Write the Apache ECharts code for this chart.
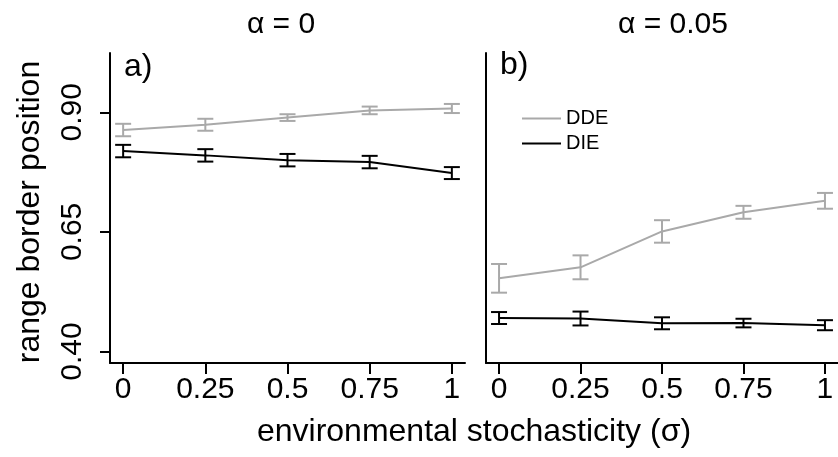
<!DOCTYPE html>
<html>
<head>
<meta charset="utf-8">
<script src="https://cdn.jsdelivr.net/npm/echarts@6/dist/echarts.min.js"></script>
<style>
  html, body { margin: 0; padding: 0; background: #ffffff; }
  #chart { width: 838px; height: 457px; }
</style>
</head>
<body>
<div id="chart"></div>
<script>
// Environmental stochasticity levels (x)
const sigma = [0, 0.25, 0.5, 0.75, 1];
const sigmaLabels = ['0', '0.25', '0.5', '0.75', '1'];

// Range border position, alpha = 0
const ddeA = [0.863, 0.874, 0.889, 0.904, 0.908];
const ddeAErr = [0.013, 0.0125, 0.007, 0.008, 0.0095];
const dieA = [0.819, 0.810, 0.800, 0.796, 0.773];
const dieAErr = [0.013, 0.013, 0.013, 0.013, 0.0125];

// Range border position, alpha = 0.05
const ddeB = [0.553, 0.576, 0.651, 0.691, 0.715];
const ddeBErr = [0.030, 0.025, 0.0235, 0.0135, 0.0165];
const dieB = [0.470, 0.469, 0.459, 0.4595, 0.455];
const dieBErr = [0.0125, 0.0145, 0.0125, 0.009, 0.0105];

// Y tick positions and labels
const yTicks = [0.40, 0.65, 0.90];
const yTickLabels = ['0.40', '0.65', '0.90'];

const GREY = '#a9a9a9';
const BLACK = '#000000';
const FONT = '"Liberation Sans", Arial, Helvetica, sans-serif';

const chart = echarts.init(document.getElementById('chart'), null, { renderer: 'canvas' });

function xAxisFor(gridIndex) {
  return {
    type: 'value', gridIndex: gridIndex, min: -0.04, max: 1.04,
    splitLine: { show: false },
    axisLine: { show: true, onZero: false, lineStyle: { color: BLACK, width: 2 } },
    axisTick: { show: true, length: 11, lineStyle: { color: BLACK, width: 2 }, customValues: sigma },
    axisLabel: {
      show: true, customValues: sigma, margin: 12,
      color: BLACK, fontSize: 30, fontFamily: FONT,
      formatter: function (v) { const i = sigma.indexOf(v); return i >= 0 ? sigmaLabels[i] : ''; }
    }
  };
}

function yAxisFor(gridIndex, withLabels) {
  return {
    type: 'value', gridIndex: gridIndex, min: 0.376, max: 1.024,
    splitLine: { show: false },
    axisLine: { show: true, onZero: false, lineStyle: { color: BLACK, width: 2 } },
    axisTick: { show: withLabels, length: 10, lineStyle: { color: BLACK, width: 2 }, customValues: yTicks },
    axisLabel: {
      show: withLabels, customValues: yTicks, rotate: 90, margin: 22,
      color: BLACK, fontSize: 30, fontFamily: FONT,
      formatter: function (v) {
        for (let i = 0; i < yTicks.length; i++) { if (Math.abs(yTicks[i] - v) < 1e-9) return yTickLabels[i]; }
        return '';
      }
    }
  };
}

function lineSeries(name, values, color, idx) {
  return {
    name: name, type: 'line', xAxisIndex: idx, yAxisIndex: idx,
    data: sigma.map((s, i) => [s, values[i]]),
    symbol: 'none', lineStyle: { color: color, width: 2 }, itemStyle: { color: color },
    z: 2, silent: true
  };
}

function errorSeries(values, errs, color, idx) {
  return {
    type: 'custom', xAxisIndex: idx, yAxisIndex: idx, clip: false, z: 3, silent: true,
    data: sigma.map((s, i) => [s, values[i] - errs[i], values[i] + errs[i]]),
    renderItem: function (params, api) {
      const lo = api.coord([api.value(0), api.value(1)]);
      const hi = api.coord([api.value(0), api.value(2)]);
      const w = 8;
      const st = { stroke: color, lineWidth: 2 };
      return {
        type: 'group',
        children: [
          { type: 'line', shape: { x1: lo[0], y1: lo[1], x2: hi[0], y2: hi[1] }, style: st },
          { type: 'line', shape: { x1: lo[0] - w, y1: lo[1], x2: lo[0] + w, y2: lo[1] }, style: st },
          { type: 'line', shape: { x1: hi[0] - w, y1: hi[1], x2: hi[0] + w, y2: hi[1] }, style: st }
        ]
      };
    }
  };
}

function txt(text, x, y, size, align, rotation) {
  return {
    type: 'text', x: x, y: y, rotation: rotation || 0,
    style: { text: text, fill: BLACK, fontSize: size, fontFamily: FONT, align: align || 'center', verticalAlign: 'middle' }
  };
}

chart.setOption({
  backgroundColor: '#ffffff',
  animation: false,
  grid: [
    { left: 110, right: 373, top: 53, bottom: 94 },
    { left: 486, right: -3, top: 53, bottom: 94 }
  ],
  xAxis: [xAxisFor(0), xAxisFor(1)],
  yAxis: [yAxisFor(0, true), yAxisFor(1, false)],
  legend: {
    data: [{ name: 'DDE' }, { name: 'DIE' }],
    orient: 'vertical', left: 517, top: 101,
    icon: 'rect', itemWidth: 39, itemHeight: 2, itemGap: 0, itemTextGap: 17,
    selectedMode: false,
    textStyle: { color: BLACK, fontSize: 20, fontFamily: FONT, lineHeight: 25 }
  },
  series: [
    lineSeries('DDE', ddeA, GREY, 0),
    lineSeries('DIE', dieA, BLACK, 0),
    lineSeries('DDE', ddeB, GREY, 1),
    lineSeries('DIE', dieB, BLACK, 1),
    errorSeries(ddeA, ddeAErr, GREY, 0),
    errorSeries(dieA, dieAErr, BLACK, 0),
    errorSeries(ddeB, ddeBErr, GREY, 1),
    errorSeries(dieB, dieBErr, BLACK, 1)
  ],
  graphic: [
    txt('\u03B1 = 0', 281, 25, 30),
    txt('\u03B1 = 0.05', 673, 25, 30),
    txt('a)', 124, 67, 32, 'left'),
    txt('b)', 500, 65, 32, 'left'),
    txt('environmental stochasticity (\u03C3)', 474, 432, 32),
    txt('range border position', 30, 212, 32, 'center', Math.PI / 2)
  ]
});
</script>
</body>
</html>
